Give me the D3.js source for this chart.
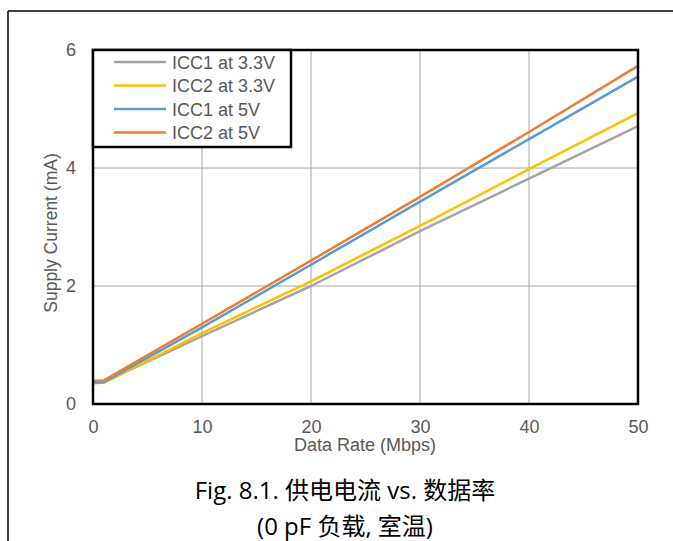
<!DOCTYPE html>
<html><head><meta charset="utf-8">
<script src="https://cdn.jsdelivr.net/npm/d3@7"></script>
<style>body{margin:0;background:#fff}svg{display:block}</style>
</head><body><svg id="c" width="673" height="541"></svg>
<script>
const xValues = [0, 1, 10, 20, 30, 40, 50];
const icc1_33 = [0.37, 0.37, 1.15, 2.00, 2.93, 3.82, 4.71];
const icc2_33 = [0.35, 0.36, 1.20, 2.08, 3.02, 3.98, 4.93];
const icc1_5 = [0.36, 0.37, 1.30, 2.36, 3.43, 4.49, 5.55];
const icc2_5 = [0.39, 0.40, 1.36, 2.43, 3.51, 4.61, 5.73];
const seriesNames = ["ICC1 at 3.3V", "ICC2 at 3.3V", "ICC1 at 5V", "ICC2 at 5V"];
const seriesColors = ["#a5a5a5", "#ffc000", "#5b9bd5", "#ed7d31"];
const xTicks = [0, 10, 20, 30, 40, 50];
const yTicks = [0, 2, 4, 6];

const series = [icc1_33, icc2_33, icc1_5, icc2_5];
const svg = d3.select("#c");
const L = 93, R = 638, T = 50, B = 404;
const x = d3.scaleLinear().domain([0, 50]).range([L, R]);
const y = d3.scaleLinear().domain([0, 6]).range([B, T]);
const FONT = "Liberation Sans, Arial, sans-serif";

// outer frame
svg.append("line").attr("x1", 8).attr("x2", 8).attr("y1", 11).attr("y2", 541).attr("stroke", "#000").attr("stroke-width", 1.5);
svg.append("line").attr("x1", 8).attr("x2", 673).attr("y1", 11).attr("y2", 11).attr("stroke", "#000").attr("stroke-width", 1.5);

// grid
svg.append("g").selectAll("line").data(xTicks.filter(d => d > 0 && d < 50)).join("line")
  .attr("x1", d => x(d)).attr("x2", d => x(d)).attr("y1", T).attr("y2", B)
  .attr("stroke", "#a6a6a6").attr("stroke-width", 1);
svg.append("g").selectAll("line").data(yTicks.filter(d => d > 0 && d < 6)).join("line")
  .attr("y1", d => y(d)).attr("y2", d => y(d)).attr("x1", L).attr("x2", R)
  .attr("stroke", "#a6a6a6").attr("stroke-width", 1);

// axes tick labels via d3 axes
const xAxis = svg.append("g").attr("transform", `translate(0,${B})`)
  .call(d3.axisBottom(x).tickValues(xTicks).tickFormat(d3.format("d")).tickSize(0).tickPadding(16));
const yAxis = svg.append("g").attr("transform", `translate(${L},0)`)
  .call(d3.axisLeft(y).tickValues(yTicks).tickFormat(d3.format("d")).tickSize(0).tickPadding(17));
[xAxis, yAxis].forEach(a => {
  a.select(".domain").remove();
  a.selectAll("text").attr("fill", "#595959").style("font-family", FONT).style("font-size", "18px");
});

// lines
const line = d3.line().x((d, i) => x(xValues[i])).y(d => y(d));
svg.append("g").selectAll("path").data(series).join("path")
  .attr("d", d => line(d)).attr("fill", "none")
  .attr("stroke", (d, i) => seriesColors[i]).attr("stroke-width", 2.5)
  .attr("stroke-linejoin", "round");

// plot border
svg.append("rect").attr("x", L).attr("y", T).attr("width", R - L).attr("height", B - T)
  .attr("fill", "none").attr("stroke", "#000").attr("stroke-width", 2.5);

// legend
const lg = svg.append("g");
lg.append("rect").attr("x", 93).attr("y", 50).attr("width", 198).attr("height", 97)
  .attr("fill", "#fff").attr("stroke", "#000").attr("stroke-width", 2.5);
seriesNames.forEach((n, i) => {
  const yy = 62 + i * 23.5;
  lg.append("line").attr("x1", 114).attr("x2", 166).attr("y1", yy).attr("y2", yy)
    .attr("stroke", seriesColors[i]).attr("stroke-width", 2.5);
  lg.append("text").attr("x", 172).attr("y", yy + 6.5).text(n)
    .attr("fill", "#595959").style("font-family", FONT).style("font-size", "18px");
});

// axis titles
svg.append("text").attr("x", 365).attr("y", 451).attr("text-anchor", "middle").text("Data Rate (Mbps)")
  .attr("fill", "#595959").style("font-family", FONT).style("font-size", "18px");
svg.append("text").attr("transform", "translate(57,233) rotate(-90)").attr("text-anchor", "middle").text("Supply Current (mA)")
  .attr("fill", "#595959").style("font-family", FONT).style("font-size", "17.5px");

// caption
svg.append("text").attr("x", 345).attr("y", 499).attr("text-anchor", "middle").text("Fig. 8.1. 供电电流 vs. 数据率")
  .attr("fill", "#000").style("font-family", "Open Sans, Noto Sans CJK SC, sans-serif").style("font-size", "24px");
svg.append("text").attr("x", 345).attr("y", 535).attr("text-anchor", "middle").text("(0 pF 负载, 室温)")
  .attr("fill", "#000").style("font-family", "Open Sans, Noto Sans CJK SC, sans-serif").style("font-size", "24px");
</script></body></html>
